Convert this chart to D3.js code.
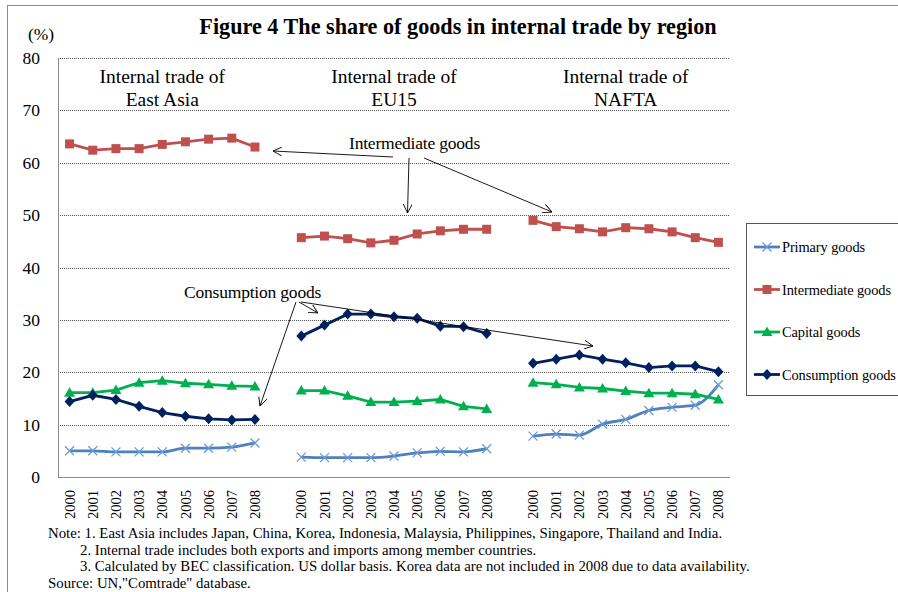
<!DOCTYPE html>
<html>
<head>
<meta charset="utf-8">
<script src="https://d3js.org/d3.v7.min.js"></script>
<style>
  body { margin: 0; background: #fff; }
</style>
</head>
<body>
<div id="chart"></div>
<script>
// data (share in %, 2000-2008)
const years = ["2000", "2001", "2002", "2003", "2004", "2005", "2006", "2007", "2008"];
const regions = ["East Asia", "EU15", "NAFTA"];
const yTicks = [0, 10, 20, 30, 40, 50, 60, 70, 80];

// one array per region for each series
const primaryGoods = [
    [5.0, 5.0, 4.8, 4.8, 4.8, 5.5, 5.5, 5.7, 6.5],
    [3.8, 3.7, 3.7, 3.7, 4.0, 4.6, 4.9, 4.8, 5.4],
    [7.8, 8.2, 8.0, 10.1, 11.0, 12.7, 13.3, 13.7, 17.6]
];
const intermediateGoods = [
    [63.6, 62.4, 62.7, 62.7, 63.5, 64.0, 64.5, 64.7, 63.0],
    [45.7, 46.0, 45.5, 44.7, 45.2, 46.4, 47.0, 47.3, 47.3],
    [49.0, 47.8, 47.4, 46.8, 47.6, 47.4, 46.8, 45.7, 44.8]
];
const capitalGoods = [
    [16.1, 16.1, 16.6, 18.0, 18.4, 17.9, 17.7, 17.4, 17.3],
    [16.5, 16.5, 15.5, 14.3, 14.3, 14.5, 14.8, 13.5, 13.0],
    [18.0, 17.7, 17.1, 16.9, 16.4, 16.0, 16.0, 15.8, 14.8]
];
const consumptionGoods = [
    [14.4, 15.6, 14.8, 13.5, 12.3, 11.6, 11.1, 10.9, 11.0],
    [26.9, 29.0, 31.1, 31.1, 30.6, 30.3, 28.8, 28.7, 27.4],
    [21.7, 22.5, 23.3, 22.5, 21.8, 20.9, 21.2, 21.2, 20.1]
];

const seriesNames = ["Primary goods", "Intermediate goods", "Capital goods", "Consumption goods"];
const seriesValues = [primaryGoods, intermediateGoods, capitalGoods, consumptionGoods];
const seriesColors = ["#4F81BD", "#C0504D", "#00B050", "#002060"];
const markerTypes = ["x", "square", "triangle", "diamond"];

const notes = [
    "Note: 1. East Asia includes Japan, China, Korea, Indonesia, Malaysia, Philippines, Singapore, Thailand and India.",
    "2. Internal trade includes both exports and imports among member countries.",
    "3. Calculated by BEC classification. US dollar basis. Korea data are not included in 2008 due to data availability.",
    "Source: UN,\"Comtrade\" database."
];

const FONT = "'Liberation Serif', 'Times New Roman', serif";

let width = 898, height = 592;
let margin = { left: 58, right: 168, top: 58, bottom: 115 };

let svg = d3.select("#chart").append("svg")
    .attr("width", width)
    .attr("height", height)
    .attr("font-family", FONT)
    .style("font-family", FONT);

// outer frame
svg.append("rect")
    .attr("x", 7.5).attr("y", 5.5)
    .attr("width", 1000).attr("height", 1000)
    .attr("fill", "none")
    .attr("stroke", "#8c8c8c");

// category slots: 9 years per region with an empty slot between regions
let slots = [];
regions.forEach((r, i) => {
    years.forEach(y => slots.push(i + "-" + y));
    if (i < regions.length - 1) slots.push("gap" + i);
});

let x = d3.scaleBand()
    .domain(slots)
    .range([margin.left, width - margin.right])
    .padding(0);

let y = d3.scaleLinear()
    .domain([0, 80])
    .range([height - margin.bottom, margin.top]);

let cx = key => x(key) + x.bandwidth() / 2;

// gridlines
svg.append("g")
    .selectAll("line")
    .data(yTicks.filter(t => t > 0))
    .enter()
    .append("line")
    .attr("x1", margin.left)
    .attr("x2", width - margin.right)
    .attr("y1", d => Math.round(y(d)) + 0.5)
    .attr("y2", d => Math.round(y(d)) + 0.5)
    .attr("stroke", "#555")
    .attr("stroke-dasharray", "1,1");

// y axis
let yAxis = svg.append("g")
    .attr("transform", `translate(${margin.left},0)`)
    .call(d3.axisLeft(y).tickValues(yTicks).tickSize(0).tickPadding(18));
yAxis.attr("font-family", FONT);
yAxis.select(".domain").attr("stroke", "#8c8c8c");
yAxis.selectAll("text")
    .style("font-family", FONT)
    .style("font-size", "17.5px")
    .attr("fill", "#000");

// bottom line
svg.append("line")
    .attr("x1", margin.left)
    .attr("x2", width - margin.right)
    .attr("y1", Math.round(y(0)) + 0.5)
    .attr("y2", Math.round(y(0)) + 0.5)
    .attr("stroke", "#8c8c8c");

// x labels, rotated
let xAxis = svg.append("g")
    .attr("transform", `translate(0,${y(0)})`)
    .call(d3.axisBottom(x).tickValues(slots.filter(s => !s.startsWith("gap")))
        .tickFormat(d => d.split("-")[1]).tickSize(0).tickPadding(0));
xAxis.attr("font-family", FONT);
xAxis.select(".domain").remove();
xAxis.selectAll("text")
    .style("font-family", FONT)
    .style("font-size", "14.5px")
    .attr("fill", "#000")
    .attr("text-anchor", "end")
    .attr("transform", "rotate(-90)")
    .attr("x", -13)
    .attr("y", 0)
    .attr("dy", "0.35em");

svg.append("text")
    .attr("x", 41).attr("y", 40)
    .attr("text-anchor", "middle")
    .style("font-family", FONT)
    .style("font-size", "17.5px")
    .text("(%)");

svg.append("text")
    .attr("x", 458).attr("y", 34)
    .attr("text-anchor", "middle")
    .style("font-family", FONT)
    .style("font-size", "22.2px")
    .style("font-weight", "bold")
    .text("Figure 4 The share of goods in internal trade by region");

// panel titles
regions.forEach((r, i) => {
    let mid = (cx(i + "-2000") + cx(i + "-2008")) / 2;
    let t = svg.append("text")
        .attr("text-anchor", "middle")
        .style("font-family", FONT)
        .style("font-size", "19.5px");
    t.append("tspan").attr("x", mid).attr("y", 83).text("Internal trade of");
    t.append("tspan").attr("x", mid).attr("y", 106).text(r);
});

// markers
function drawMarker(g, type, color, px, py) {
    if (type === "square") {
        g.append("rect").attr("x", px - 4.5).attr("y", py - 4.5)
            .attr("width", 9).attr("height", 9).attr("fill", color);
    } else if (type === "triangle") {
        g.append("path")
            .attr("d", `M${px},${py - 5.5}L${px + 5.5},${py + 4}L${px - 5.5},${py + 4}Z`)
            .attr("fill", color);
    } else if (type === "diamond") {
        g.append("path")
            .attr("d", `M${px},${py - 5.5}L${px + 5},${py}L${px},${py + 5.5}L${px - 5},${py}Z`)
            .attr("fill", color);
    } else {
        g.append("path")
            .attr("d", `M${px - 4.5},${py - 4.5}L${px + 4.5},${py + 4.5}M${px - 4.5},${py + 4.5}L${px + 4.5},${py - 4.5}`)
            .attr("stroke", "#6E9AD6").attr("stroke-width", 1.3).attr("fill", "none");
    }
}

let line = d3.line()
    .x(d => cx(d.key))
    .y(d => y(d.value));

seriesValues.forEach((regionVals, s) => {
    let g = svg.append("g");
    regionVals.forEach((vals, r) => {
        let pts = vals.map((v, j) => ({ key: r + "-" + years[j], value: v }));
        g.append("path")
            .datum(pts)
            .attr("d", s === 0 ? line.curve(d3.curveMonotoneX)(pts) : line.curve(d3.curveLinear)(pts))
            .attr("fill", "none")
            .attr("stroke", seriesColors[s])
            .attr("stroke-width", 2.8);
        pts.forEach(p => drawMarker(g, markerTypes[s], seriesColors[s], cx(p.key), y(p.value)));
    });
});

// annotations with arrows
svg.append("defs").append("marker")
    .attr("id", "arrow")
    .attr("viewBox", "0 0 10 10")
    .attr("refX", 10).attr("refY", 5)
    .attr("markerWidth", 9).attr("markerHeight", 9)
    .attr("markerUnits", "userSpaceOnUse")
    .attr("orient", "auto")
    .append("path")
    .attr("d", "M0,0L10,5L0,10")
    .attr("fill", "none")
    .attr("stroke", "#000")
    .attr("stroke-width", 1);

function arrow(x1, y1, x2, y2) {
    svg.append("line")
        .attr("x1", x1).attr("y1", y1).attr("x2", x2).attr("y2", y2)
        .attr("stroke", "#000").attr("stroke-width", 0.9)
        .attr("marker-end", "url(#arrow)");
}

svg.append("text")
    .attr("x", 349).attr("y", 149)
    .style("font-family", FONT)
    .style("font-size", "17.5px")
    .style("letter-spacing", "-0.2px")
    .text("Intermediate goods");
arrow(393, 157, 273, 151);
arrow(409, 158, 407.5, 213);
arrow(424, 158, 552, 212);

svg.append("text")
    .attr("x", 184).attr("y", 298)
    .style("font-family", FONT)
    .style("font-size", "17.5px")
    .style("letter-spacing", "-0.2px")
    .text("Consumption goods");
arrow(296, 302, 260, 406);
arrow(299, 302, 318, 313);
arrow(301, 302, 593, 346);

// legend
let legend = svg.append("g");
legend.append("rect")
    .attr("x", 746.5).attr("y", 223.5)
    .attr("width", 200).attr("height", 172)
    .attr("fill", "#fff")
    .attr("stroke", "#555");
seriesNames.forEach((name, i) => {
    let ly = 247 + i * 42.5;
    legend.append("line")
        .attr("x1", 754).attr("x2", 780)
        .attr("y1", ly).attr("y2", ly)
        .attr("stroke", seriesColors[i]).attr("stroke-width", 2.8);
    drawMarker(legend, markerTypes[i], seriesColors[i], 767, ly);
    legend.append("text")
        .attr("x", 782).attr("y", ly + 5)
        .style("font-family", FONT)
        .style("font-size", "14.4px")
        .style("letter-spacing", "-0.1px")
        .text(name);
});

// notes
svg.append("g")
    .selectAll("text")
    .data(notes)
    .enter()
    .append("text")
    .attr("x", (d, i) => (i === 1 || i === 2) ? 80 : 48)
    .attr("y", (d, i) => 538 + i * 16.7)
    .style("font-family", FONT)
    .style("font-size", "14.8px")
    .text(d => d);
</script>
</body>
</html>
